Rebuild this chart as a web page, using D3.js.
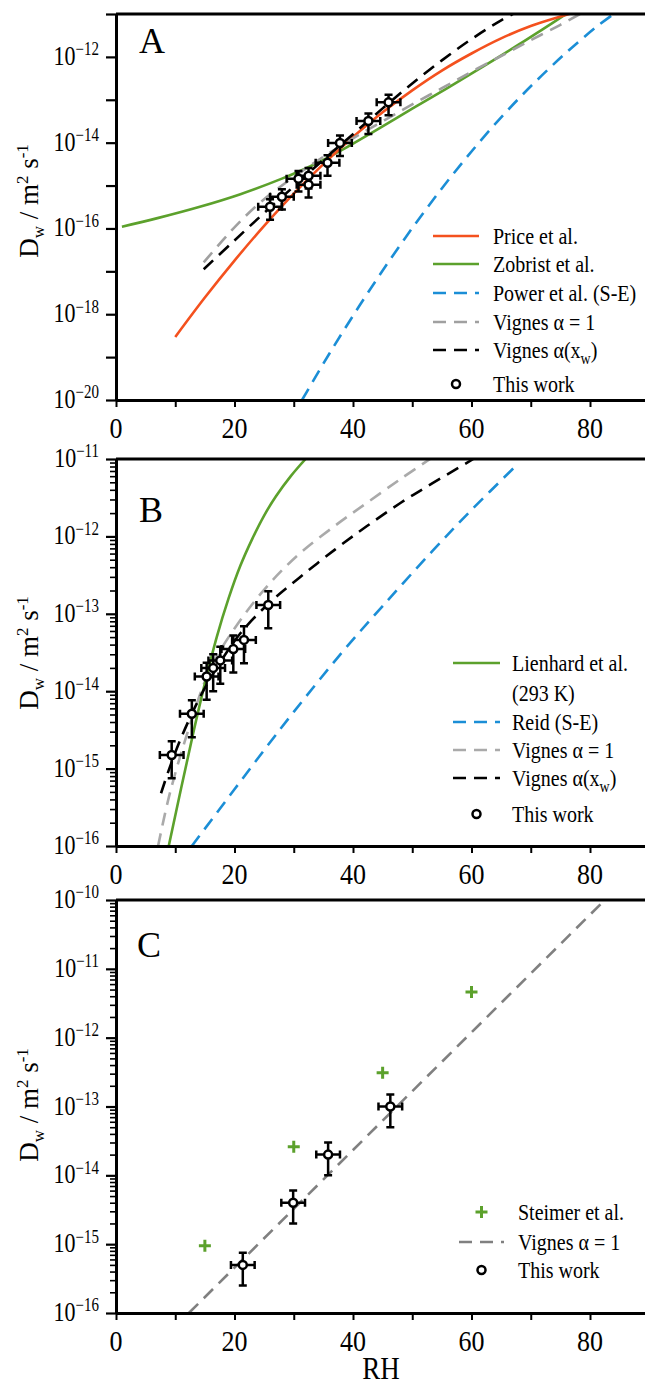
<!DOCTYPE html>
<html>
<head>
<meta charset="utf-8">
<script src="https://cdn.jsdelivr.net/npm/d3@7"></script>
<style>
  body { margin: 0; background: #fff; }
</style>
</head>
<body>
<svg id="chart" width="645" height="1385" style="font-family: 'Liberation Serif', 'Times New Roman', serif;"></svg>
<script>
// x axis ticks (RH, %)
const xTicks = [0, 10, 20, 30, 40, 50, 60, 70, 80, 90];
const xLabels = [0, 20, 40, 60, 80];

// ---- Panel A ----
const priceRH = [10, 15, 20, 25, 30, 35, 40, 45, 50, 55, 60, 65, 70, 75, 77];
const priceD  = [2.95e-19, 2.45e-18, 1.78e-17, 1.15e-16, 6.5e-16, 3.16e-15, 1.35e-14, 5.1e-14, 1.66e-13, 4.8e-13, 1.2e-12, 2.7e-12, 5.25e-12, 8.7e-12, 1.05e-11];
const zobristRH = [1, 7, 14, 21, 28, 33, 38, 44, 50, 56, 62, 68, 72, 76];
const zobristD  = [1.1e-16, 1.74e-16, 3.16e-16, 6.3e-16, 1.45e-15, 2.9e-15, 6.6e-15, 2.0e-14, 6.2e-14, 1.9e-13, 6.0e-13, 1.95e-12, 4.4e-12, 1.0e-11];
const powerRH = [31.4, 36, 41, 46, 51, 56, 61, 66, 71, 76, 81, 84];
const powerD  = [1.0e-20, 1.2e-19, 1.51e-18, 1.66e-17, 1.58e-16, 1.29e-15, 9.1e-15, 5.5e-14, 2.82e-13, 1.26e-12, 4.9e-12, 1.0e-11];
const vignesA1RH = [14.8, 18, 21, 25, 30, 35, 40, 45, 50, 55, 60, 65, 70, 75, 78.3];
const vignesA1D  = [1.62e-17, 5.25e-17, 1.48e-16, 4.8e-16, 1.58e-15, 4.7e-15, 1.26e-14, 3.16e-14, 7.8e-14, 1.86e-13, 4.5e-13, 1.05e-12, 2.45e-12, 5.6e-12, 1.0e-11];
const vignesAxRH = [14.8, 20, 25, 30, 35, 40, 45, 50, 55, 60, 65, 70];
const vignesAxD  = [1.12e-17, 5.25e-17, 2.3e-16, 9.5e-16, 4.0e-15, 1.58e-14, 6.3e-14, 2.4e-13, 8.3e-13, 2.6e-12, 7.1e-12, 1.66e-11];
const workART = [26.0, 28.0, 30.8, 32.5, 32.5, 35.7, 37.8, 42.6, 46.0];
const workAD  = [3.2e-16, 5.5e-16, 1.45e-15, 1.7e-15, 1.05e-15, 3.4e-15, 9.8e-15, 3.2e-14, 8.7e-14];

// ---- Panel B ----
const lienhardRH = [8.9, 11, 13, 15, 17, 19, 21, 23, 25, 27, 29.5, 32];
const lienhardD  = [1.0e-16, 5.6e-16, 2.8e-15, 1.26e-14, 5.0e-14, 1.58e-13, 4.2e-13, 9.3e-13, 1.86e-12, 3.3e-12, 6.0e-12, 1.0e-11];
const reidRH = [12.8, 20, 25.4, 30, 37.8, 45, 53.5, 60, 67.6];
const reidD  = [1.0e-16, 5.4e-16, 1.9e-15, 5.4e-15, 2.95e-14, 1.26e-13, 6.6e-13, 2.2e-12, 8.3e-12];
const vignesB1RH = [7.1, 9, 12, 16, 21, 26, 31, 37, 42.3, 48, 53];
const vignesB1D  = [1.0e-16, 4.5e-16, 2.8e-15, 2.0e-14, 8.3e-14, 2.5e-13, 6.0e-13, 1.38e-12, 2.7e-12, 5.5e-12, 1.0e-11];
const vignesBxRH = [7.6, 9, 11, 14, 17, 21, 26, 31, 37, 42.3, 48, 53.5, 60.3];
const vignesBxD  = [4.8e-16, 1.0e-15, 2.5e-15, 7.9e-15, 2.0e-14, 5.6e-14, 1.41e-13, 2.95e-13, 6.8e-13, 1.35e-12, 2.7e-12, 4.9e-12, 1.0e-11];
const workBRH = [9.4, 12.8, 15.3, 16.4, 17.6, 19.8, 21.6, 25.7];
const workBD  = [1.5e-15, 5.1e-15, 1.55e-14, 2.0e-14, 2.5e-14, 3.5e-14, 4.6e-14, 1.3e-13];

// ---- Panel C ----
const steimerRH = [15, 30, 45, 60];
const steimerD  = [9.5e-16, 2.6e-14, 3.1e-13, 4.6e-12];
const vignesC1RH = [12.3, 82.5];
const vignesC1D  = [1.0e-16, 1.0e-10];
const workCRH = [21.4, 29.9, 35.8, 46.3];
const workCD  = [5.0e-16, 4.0e-15, 2.0e-14, 1.0e-13];

const xErr = 2;       // RH error
const yErrFrac = 0.5; // relative error on D

const ORANGE = "#f4511e", GREEN = "#5ca12c", BLUE = "#1b8ed6";
const FONT = "'Liberation Serif', 'Times New Roman', serif";

const svg = d3.select("#chart");
const x = d3.scaleLinear().domain([0, 90]).range([116, 116 + 90 * 5.925]);

function zip(a, b) { return a.map((v, i) => [v, b[i]]); }

// text that is a bit taller than wide, like the original figure
function stext(parent, tx, ty, size, sy, anchor) {
  return parent.append("text")
    .attr("transform", `translate(${tx},${ty}) scale(1,${sy})`)
    .attr("text-anchor", anchor || "start")
    .style("font-family", FONT)
    .style("font-size", size + "px")
    .attr("fill", "#000");
}

function panel(cfg) {
  const y = d3.scaleLog().domain(cfg.yDomain).range([cfg.bottom, cfg.top]);
  const g = svg.append("g");
  const clipId = "clip" + cfg.name;
  svg.append("clipPath").attr("id", clipId).append("rect")
    .attr("x", 116).attr("y", cfg.top).attr("width", 560).attr("height", cfg.bottom - cfg.top);

  const line = d3.line().x(d => x(d[0])).y(d => y(d[1])).curve(d3.curveCatmullRom.alpha(0.5));
  const plot = g.append("g").attr("clip-path", "url(#" + clipId + ")");

  cfg.curves.forEach(c => {
    plot.append("path").datum(zip(c.rh, c.d))
      .attr("d", line).attr("fill", "none")
      .attr("stroke", c.color).attr("stroke-width", 2.6)
      .attr("stroke-dasharray", c.dash ? "13,8" : null);
  });

  if (cfg.crosses) {
    plot.selectAll(".cross").data(zip(cfg.crosses.rh, cfg.crosses.d)).enter()
      .append("path")
      .attr("d", d => `M${x(d[0]) - 6},${y(d[1])}h12M${x(d[0])},${y(d[1]) - 6}v12`)
      .attr("stroke", GREEN).attr("stroke-width", 3);
  }

  // this work, with error bars
  const pts = zip(cfg.work.rh, cfg.work.d);
  const eb = plot.append("g").attr("stroke", "#000").attr("stroke-width", 2.5).attr("fill", "none");
  pts.forEach(d => {
    const cx = x(d[0]), cy = y(d[1]);
    const y1 = y(d[1] * (1 + yErrFrac)), y2 = y(d[1] * (1 - yErrFrac));
    const x1 = x(d[0] - xErr), x2 = x(d[0] + xErr);
    eb.append("path").attr("d",
      `M${cx},${y1}V${y2}M${cx - 4},${y1}h8M${cx - 4},${y2}h8` +
      `M${x1},${cy}H${x2}M${x1},${cy - 4}v8M${x2},${cy - 4}v8`);
  });
  plot.selectAll(".pt").data(pts).enter().append("circle")
    .attr("cx", d => x(d[0])).attr("cy", d => y(d[1])).attr("r", 4)
    .attr("fill", "#fff").attr("stroke", "#000").attr("stroke-width", 2.5);

  // axes
  const xa = g.append("g").attr("transform", `translate(0,${cfg.bottom})`)
    .call(d3.axisBottom(x).tickValues(xTicks).tickSize(7).tickSizeOuter(0).tickFormat(""));
  xa.selectAll("line").attr("stroke-width", 2);
  xa.select(".domain").attr("stroke-width", 3);
  xLabels.forEach(v => {
    stext(g, x(v), cfg.bottom + 38, 26, 1.15, "middle").text(v);
  });

  const lo = Math.round(Math.log10(cfg.yDomain[0])), hi = Math.round(Math.log10(cfg.yDomain[1]));
  const decades = d3.range(lo, hi + 1).map(e => Math.pow(10, e));
  if (cfg.minor) {
    const minors = [];
    d3.range(lo, hi).forEach(e => { for (let k = 2; k < 10; k++) minors.push(k * Math.pow(10, e)); });
    const ma = g.append("g").attr("transform", "translate(116,0)")
      .call(d3.axisLeft(y).tickValues(minors).tickSize(6).tickSizeOuter(0).tickFormat(""));
    ma.select(".domain").remove();
    ma.selectAll("line").attr("stroke-width", 1.6);
  }
  const ya = g.append("g").attr("transform", "translate(116,0)")
    .call(d3.axisLeft(y).tickValues(decades).tickSize(10).tickSizeOuter(0).tickFormat(""));
  ya.selectAll("line").attr("stroke-width", 2.2);
  ya.select(".domain").attr("stroke-width", 3);

  // top frame
  g.append("line").attr("x1", 116).attr("x2", 650).attr("y1", cfg.top).attr("y2", cfg.top)
    .attr("stroke", "#000").attr("stroke-width", 3);

  cfg.yLabels.forEach(e => {
    const t = stext(g, 99, y(Math.pow(10, e)) + 8, 22, 1.2, "end");
    t.append("tspan").text("10");
    t.append("tspan").attr("dy", -8).style("font-size", "15px").text("\u2212" + Math.abs(e));
  });

  // y title
  const tt = g.append("text").attr("transform", `translate(38,${cfg.titleY}) rotate(-90)`)
    .attr("text-anchor", "middle").style("font-family", FONT).style("font-size", "27px");
  tt.append("tspan").text("D");
  tt.append("tspan").attr("dy", 6).style("font-size", "17px").text("w");
  tt.append("tspan").attr("dy", -6).text(" / m");
  tt.append("tspan").attr("dy", -10).style("font-size", "17px").text("2");
  tt.append("tspan").attr("dy", 10).text(" s");
  tt.append("tspan").attr("dy", -10).style("font-size", "17px").text("-1");

  // panel letter
  g.append("text").attr("x", cfg.letterX).attr("y", cfg.letterY)
    .style("font-family", FONT).style("font-size", "36px").text(cfg.name);

  // legend
  const lg = g.append("g");
  cfg.legend.forEach(item => {
    const ly = item.y;
    if (item.kind === "line") {
      lg.append("line").attr("x1", cfg.legX1).attr("x2", cfg.legX2).attr("y1", ly).attr("y2", ly)
        .attr("stroke", item.color).attr("stroke-width", 2.6)
        .attr("stroke-dasharray", item.dash ? "13,8" : null);
    } else if (item.kind === "circle") {
      lg.append("circle").attr("cx", (cfg.legX1 + cfg.legX2) / 2).attr("cy", ly).attr("r", 4)
        .attr("fill", "#fff").attr("stroke", "#000").attr("stroke-width", 2.5);
    } else if (item.kind === "cross") {
      const cx = (cfg.legX1 + cfg.legX2) / 2;
      lg.append("path").attr("d", `M${cx - 6},${ly}h12M${cx},${ly - 6}v12`)
        .attr("stroke", GREEN).attr("stroke-width", 3);
    }
    const t = stext(lg, cfg.legText, ly + 8, 20, 1.2, "start");
    if (item.sub) {
      t.append("tspan").text(item.label);
      t.append("tspan").attr("dy", 5).style("font-size", "14px").text(item.sub);
      t.append("tspan").attr("dy", -5).text(")");
    } else {
      t.text(item.label);
    }
  });
}

panel({
  name: "A", top: 14, bottom: 400, yDomain: [1e-20, 1e-11], minor: false,
  yLabels: [-20, -18, -16, -14, -12], titleY: 201, letterX: 139, letterY: 53,
  curves: [
    { rh: powerRH, d: powerD, color: BLUE, dash: true },
    { rh: zobristRH, d: zobristD, color: GREEN },
    { rh: priceRH, d: priceD, color: ORANGE },
    { rh: vignesA1RH, d: vignesA1D, color: "#a0a0a0", dash: true },
    { rh: vignesAxRH, d: vignesAxD, color: "#000", dash: true }
  ],
  work: { rh: workART, d: workAD },
  legX1: 433, legX2: 479, legText: 493,
  legend: [
    { y: 236, kind: "line", color: ORANGE, label: "Price et al." },
    { y: 264, kind: "line", color: GREEN, label: "Zobrist et al." },
    { y: 293, kind: "line", color: BLUE, dash: true, label: "Power et al. (S-E)" },
    { y: 322, kind: "line", color: "#a0a0a0", dash: true, label: "Vignes \u03b1 = 1" },
    { y: 350, kind: "line", color: "#000", dash: true, label: "Vignes \u03b1(x", sub: "w" },
    { y: 384, kind: "circle", label: "This work" }
  ]
});

panel({
  name: "B", top: 459, bottom: 846, yDomain: [1e-16, 1e-11], minor: true,
  yLabels: [-16, -15, -14, -13, -12, -11], titleY: 653, letterX: 139, letterY: 522,
  curves: [
    { rh: reidRH, d: reidD, color: BLUE, dash: true },
    { rh: vignesB1RH, d: vignesB1D, color: "#aaaaaa", dash: true },
    { rh: lienhardRH, d: lienhardD, color: GREEN },
    { rh: vignesBxRH, d: vignesBxD, color: "#000", dash: true }
  ],
  work: { rh: workBRH, d: workBD },
  legX1: 453, legX2: 500, legText: 512,
  legend: [
    { y: 663, kind: "line", color: GREEN, label: "Lienhard et al." },
    { y: 693, kind: "none", label: "(293 K)" },
    { y: 722, kind: "line", color: BLUE, dash: true, label: "Reid (S-E)" },
    { y: 750, kind: "line", color: "#aaaaaa", dash: true, label: "Vignes \u03b1 = 1" },
    { y: 778, kind: "line", color: "#000", dash: true, label: "Vignes \u03b1(x", sub: "w" },
    { y: 814, kind: "circle", label: "This work" }
  ]
});

panel({
  name: "C", top: 900, bottom: 1313, yDomain: [1e-16, 1e-10], minor: true,
  yLabels: [-16, -15, -14, -13, -12, -11, -10], titleY: 1105, letterX: 137, letterY: 957,
  curves: [
    { rh: vignesC1RH, d: vignesC1D, color: "#808080", dash: true }
  ],
  crosses: { rh: steimerRH, d: steimerD },
  work: { rh: workCRH, d: workCD },
  legX1: 459, legX2: 504, legText: 518,
  legend: [
    { y: 1212, kind: "cross", label: "Steimer et al." },
    { y: 1242, kind: "line", color: "#808080", dash: true, label: "Vignes \u03b1 = 1" },
    { y: 1270, kind: "circle", label: "This work" }
  ]
});

stext(svg, 381, 1379, 27, 1.2, "middle").text("RH");
</script>
</body>
</html>
